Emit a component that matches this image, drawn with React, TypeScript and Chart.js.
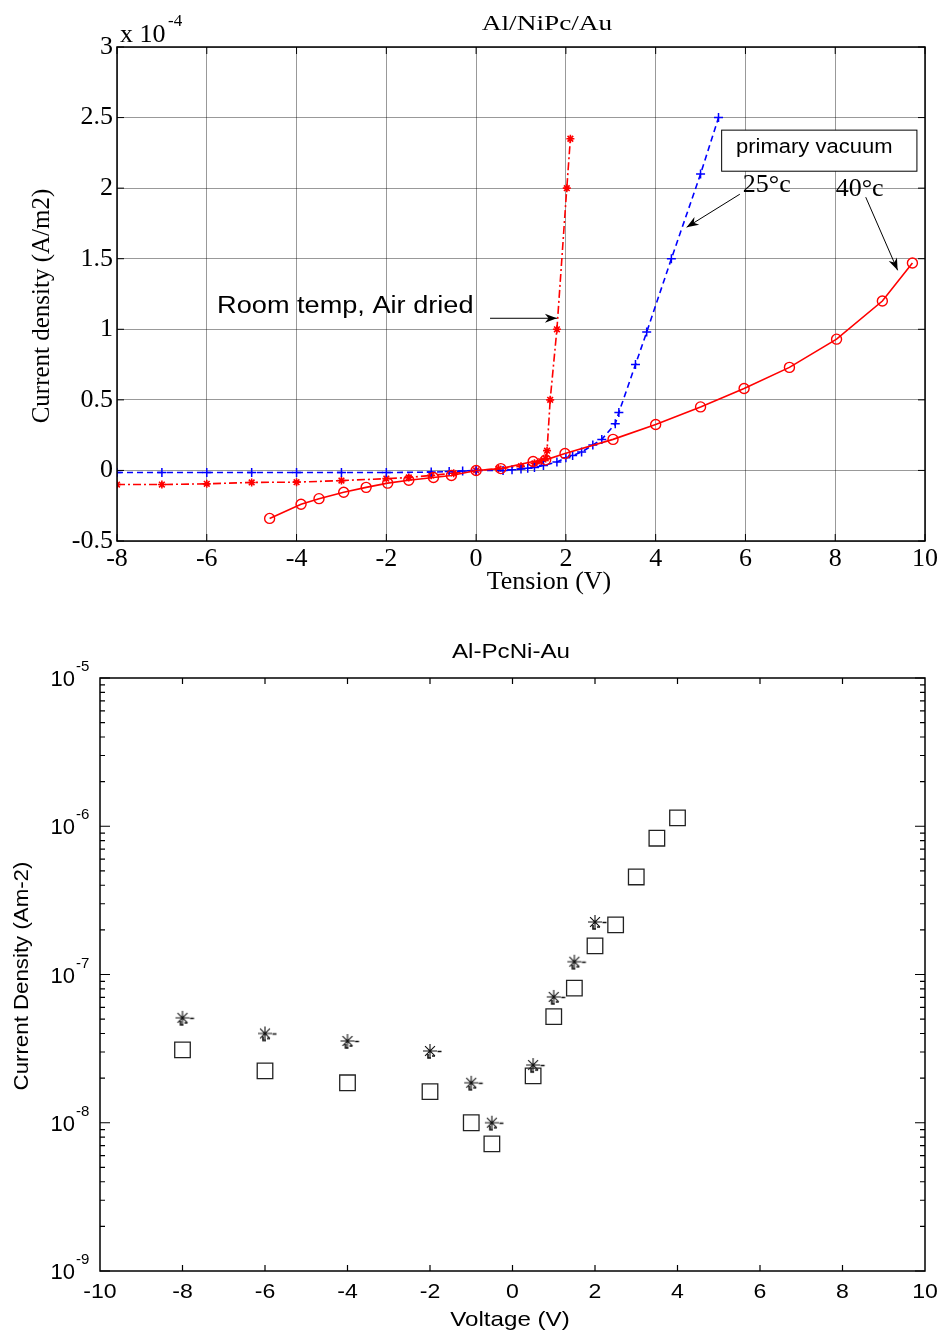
import React, { useEffect, useRef } from 'react';
import { Chart, registerables } from 'chart.js';

Chart.register(...registerables);

const SERIF = '"Liberation Serif", "Times New Roman", serif';
const SANS = '"Liberation Sans", Arial, sans-serif';

// ---------- Top chart: Al/NiPc/Au (current density in units of 1e-4 A/m2) ----------
const TOP_SCALE_EXP = -4;
const TOP_X_TICKS = [-8, -6, -4, -2, 0, 2, 4, 6, 8, 10];
const TOP_Y_TICKS = [-0.5, 0, 0.5, 1, 1.5, 2, 2.5, 3];

// primary vacuum 25°C (blue, dashed, +)
const vac25Voltage = [-8, -7, -6, -5, -4, -3, -2, -1, -0.6, -0.3, 0, 0.6, 0.8, 1.0, 1.15, 1.3, 1.5, 1.8, 2.0, 2.15, 2.35, 2.6, 2.8, 3.1, 3.18, 3.55, 3.8, 4.35, 5.0, 5.4];
const vac25Density = [-0.015, -0.015, -0.015, -0.015, -0.015, -0.015, -0.015, -0.012, -0.008, -0.004, 0, 0, 0.005, 0.01, 0.015, 0.02, 0.035, 0.06, 0.09, 0.105, 0.13, 0.18, 0.22, 0.33, 0.41, 0.75, 0.98, 1.5, 2.1, 2.5];

// room temp, air dried (red, dash-dot, *)
const roomVoltage = [-8, -7, -6, -5, -4, -3, -2, -1.5, -1, -0.5, 0, 0.5, 1.0, 1.3, 1.45, 1.55, 1.58, 1.65, 1.8, 2.02, 2.1];
const roomDensity = [-0.1, -0.1, -0.095, -0.085, -0.083, -0.072, -0.058, -0.05, -0.035, -0.02, 0, 0.012, 0.03, 0.05, 0.065, 0.085, 0.14, 0.5, 1.0, 2.0, 2.35];

// primary vacuum 40°C (red, solid, o)
const vac40Voltage = [-4.6, -3.9, -3.5, -2.95, -2.45, -1.97, -1.5, -0.95, -0.55, 0, 0.55, 1.27, 1.55, 1.98, 3.05, 4.0, 5.0, 5.97, 6.98, 8.03, 9.05, 9.72];
const vac40Density = [-0.34, -0.24, -0.2, -0.155, -0.12, -0.09, -0.07, -0.05, -0.036, 0, 0.013, 0.063, 0.075, 0.12, 0.22, 0.325, 0.45, 0.58, 0.73, 0.93, 1.2, 1.47];

// ---------- Bottom chart: Al-PcNi-Au (log scale) ----------
const BOTTOM_X_TICKS = [-10, -8, -6, -4, -2, 0, 2, 4, 6, 8, 10];
const BOTTOM_Y_EXPONENTS = [-9, -8, -7, -6, -5];

const squareVoltage = [-8, -6, -4, -2, -1, -0.5, 0.5, 1, 1.5, 2, 2.5, 3, 3.5, 4];
const squareDensity = [3.1e-8, 2.24e-8, 1.86e-8, 1.62e-8, 1.0e-8, 7.2e-9, 2.07e-8, 5.2e-8, 8.1e-8, 1.56e-7, 2.16e-7, 4.55e-7, 8.3e-7, 1.14e-6];

const starVoltage = [-8, -6, -4, -2, -1, -0.5, 0.5, 1, 1.5, 2];
const starDensity = [5.1e-8, 4.0e-8, 3.56e-8, 3.05e-8, 1.86e-8, 1.0e-8, 2.45e-8, 7.06e-8, 1.22e-7, 2.26e-7];

// annotation anchors (in data coordinates of the top chart)
const TOP_ANNOTATIONS = {
  roomText: { x: -5.77, y: 1.163, text: 'Room temp, Air dried' },
  roomArrow: { x1: 0.31, y1: 1.078, x2: 1.8, y2: 1.078 },
  boxRect: { x1: 5.47, y1: 2.411, x2: 9.82, y2: 2.12 },
  boxText: { x: 5.79, y: 2.29, text: 'primary vacuum' },
  t25: { x: 5.94, y: 2.02, text: '25°c' },
  a25: { x1: 5.875, y1: 1.957, x2: 4.69, y2: 1.723 },
  t40: { x: 8.01, y: 1.99, text: '40°c' },
  a40: { x1: 8.68, y1: 1.936, x2: 9.39, y2: 1.418 },
};

const pts = (xs: number[], ys: number[]) => xs.map((x, i) => ({ x, y: ys[i] }));

function drawText(
  ctx: CanvasRenderingContext2D,
  text: string,
  x: number,
  y: number,
  font: string,
  opts: { align?: CanvasTextAlign; sx?: number; rotate?: number; baseline?: CanvasTextBaseline } = {}
) {
  ctx.save();
  ctx.translate(x, y);
  if (opts.rotate) ctx.rotate(opts.rotate);
  ctx.scale(opts.sx ?? 1, 1);
  ctx.font = font;
  ctx.fillStyle = '#000';
  ctx.textAlign = opts.align ?? 'left';
  ctx.textBaseline = opts.baseline ?? 'middle';
  ctx.fillText(text, 0, 0);
  ctx.restore();
}

function drawArrow(ctx: CanvasRenderingContext2D, x1: number, y1: number, x2: number, y2: number) {
  ctx.save();
  ctx.strokeStyle = '#000';
  ctx.fillStyle = '#000';
  ctx.lineWidth = 1;
  ctx.beginPath();
  ctx.moveTo(x1, y1);
  ctx.lineTo(x2, y2);
  ctx.stroke();
  const a = Math.atan2(y2 - y1, x2 - x1);
  const L = 12;
  const W = 4.5;
  ctx.translate(x2, y2);
  ctx.rotate(a);
  ctx.beginPath();
  ctx.moveTo(0, 0);
  ctx.lineTo(-L, -W);
  ctx.lineTo(-L * 0.7, 0);
  ctx.lineTo(-L, W);
  ctx.closePath();
  ctx.fill();
  ctx.restore();
}

const topPlugin = {
  id: 'topDecor',
  afterDraw(chart: any) {
    const ctx: CanvasRenderingContext2D = chart.ctx;
    const { left, right, top, bottom } = chart.chartArea;
    const xs = chart.scales.x;
    const ys = chart.scales.y;
    ctx.save();
    ctx.strokeStyle = '#000';
    ctx.lineWidth = 1.5;
    ctx.strokeRect(left, top, right - left, bottom - top);
    ctx.lineWidth = 1;
    ctx.beginPath();
    TOP_X_TICKS.forEach((v) => {
      const px = xs.getPixelForValue(v);
      ctx.moveTo(px, bottom);
      ctx.lineTo(px, bottom - 7);
      ctx.moveTo(px, top);
      ctx.lineTo(px, top + 7);
    });
    TOP_Y_TICKS.forEach((v) => {
      const py = ys.getPixelForValue(v);
      ctx.moveTo(left, py);
      ctx.lineTo(left + 7, py);
      ctx.moveTo(right, py);
      ctx.lineTo(right - 7, py);
    });
    ctx.stroke();
    ctx.restore();

    drawText(ctx, 'Al/NiPc/Au', 547, 24, `21px ${SERIF}`, { align: 'center', sx: 1.3 });
    drawText(ctx, 'x 10', left + 3, 35, `26px ${SERIF}`);
    drawText(ctx, String(TOP_SCALE_EXP), left + 51, 22, `17px ${SERIF}`);
    drawText(ctx, 'Tension (V)', 549, 582, `26px ${SERIF}`, { align: 'center' });
    drawText(ctx, 'Current density (A/m2)', 42, 306, `25px ${SERIF}`, { align: 'center', rotate: -Math.PI / 2 });

    const A = TOP_ANNOTATIONS;
    const X = (v: number) => xs.getPixelForValue(v);
    const Y = (v: number) => ys.getPixelForValue(v);
    drawText(ctx, A.roomText.text, X(A.roomText.x), Y(A.roomText.y), `23px ${SANS}`, { sx: 1.18 });
    drawArrow(ctx, X(A.roomArrow.x1), Y(A.roomArrow.y1), X(A.roomArrow.x2), Y(A.roomArrow.y2));
    ctx.save();
    ctx.strokeStyle = '#000';
    ctx.lineWidth = 1;
    const bx1 = X(A.boxRect.x1), by1 = Y(A.boxRect.y1), bx2 = X(A.boxRect.x2), by2 = Y(A.boxRect.y2);
    ctx.fillStyle = '#fff';
    ctx.fillRect(bx1, by1, bx2 - bx1, by2 - by1);
    ctx.strokeRect(bx1, by1, bx2 - bx1, by2 - by1);
    ctx.restore();
    drawText(ctx, A.boxText.text, X(A.boxText.x), Y(A.boxText.y), `20px ${SANS}`, { sx: 1.1 });
    drawText(ctx, A.t25.text, X(A.t25.x), Y(A.t25.y), `26px ${SERIF}`);
    drawArrow(ctx, X(A.a25.x1), Y(A.a25.y1), X(A.a25.x2), Y(A.a25.y2));
    drawText(ctx, A.t40.text, X(A.t40.x), Y(A.t40.y), `26px ${SERIF}`);
    drawArrow(ctx, X(A.a40.x1), Y(A.a40.y1), X(A.a40.x2), Y(A.a40.y2));
  },
};

const bottomPlugin = {
  id: 'bottomDecor',
  afterDraw(chart: any) {
    const ctx: CanvasRenderingContext2D = chart.ctx;
    const { left, right, top, bottom } = chart.chartArea;
    const xs = chart.scales.x;
    const ys = chart.scales.y;
    ctx.save();
    ctx.strokeStyle = '#000';
    ctx.lineWidth = 1.5;
    ctx.strokeRect(left, top, right - left, bottom - top);
    ctx.lineWidth = 1.2;
    ctx.beginPath();
    BOTTOM_X_TICKS.slice(1, -1).forEach((v) => {
      const px = xs.getPixelForValue(v);
      ctx.moveTo(px, bottom);
      ctx.lineTo(px, bottom - 6);
      ctx.moveTo(px, top);
      ctx.lineTo(px, top + 6);
    });
    BOTTOM_Y_EXPONENTS.forEach((e, i) => {
      const py = ys.getPixelForValue(Math.pow(10, e));
      ctx.moveTo(left, py);
      ctx.lineTo(left + 10, py);
      ctx.moveTo(right, py);
      ctx.lineTo(right - 10, py);
      if (i < BOTTOM_Y_EXPONENTS.length - 1) {
        for (let k = 2; k <= 9; k++) {
          const pm = ys.getPixelForValue(k * Math.pow(10, e));
          ctx.moveTo(left, pm);
          ctx.lineTo(left + 5, pm);
          ctx.moveTo(right, pm);
          ctx.lineTo(right - 5, pm);
        }
      }
    });
    ctx.stroke();
    ctx.restore();

    BOTTOM_X_TICKS.forEach((v) => {
      drawText(ctx, String(v), xs.getPixelForValue(v), bottom + 21, `21px ${SANS}`, { align: 'center', sx: 1.1 });
    });
    BOTTOM_Y_EXPONENTS.forEach((e) => {
      const py = ys.getPixelForValue(Math.pow(10, e));
      drawText(ctx, '10', left - 25, py + 2, `22px ${SANS}`, { align: 'right' });
      drawText(ctx, String(e), left - 24, py - 11, `15px ${SANS}`);
    });
    drawText(ctx, 'Al-PcNi-Au', 511, 52, `21px ${SANS}`, { align: 'center', sx: 1.15 });
    drawText(ctx, 'Voltage (V)', 510, 720, `21px ${SANS}`, { align: 'center', sx: 1.15 });
    drawText(ctx, 'Current Density (Am-2)', 22, 376, `21px ${SANS}`, { align: 'center', rotate: -Math.PI / 2, sx: 1.06 });
  },
};

function makeStarMarker(): HTMLCanvasElement {
  const c = document.createElement('canvas');
  c.width = 32;
  c.height = 32;
  const g = c.getContext('2d')!;
  const cx = 16, cy = 16, r = 7;
  g.strokeStyle = '#111';
  g.lineWidth = 1.1;
  g.beginPath();
  for (let k = 0; k < 4; k++) {
    const a = (k * Math.PI) / 4;
    g.moveTo(cx - r * Math.cos(a), cy - r * Math.sin(a));
    g.lineTo(cx + r * Math.cos(a), cy + r * Math.sin(a));
  }
  g.stroke();
  g.lineWidth = 1.6;
  g.beginPath();
  g.moveTo(cx + 7.5, cy + 0.5);
  g.lineTo(cx + 11.5, cy + 0.5);
  g.moveTo(cx - 2, cy + 3);
  g.lineTo(cx - 2, cy + 7);
  g.lineTo(cx + 1, cy + 7);
  g.moveTo(cx + 2, cy + 5);
  g.lineTo(cx + 5, cy + 5);
  g.stroke();
  return c;
}

export default function App() {
  const topRef = useRef<HTMLCanvasElement>(null);
  const botRef = useRef<HTMLCanvasElement>(null);

  useEffect(() => {
    const gridOpts = { color: 'rgba(0,0,0,0.4)', lineWidth: 1, drawTicks: false };
    const top = new Chart(topRef.current!, {
      type: 'scatter',
      data: {
        datasets: [
          {
            data: pts(vac40Voltage, vac40Density),
            showLine: true,
            borderColor: '#ff0000',
            borderWidth: 1.6,
            pointStyle: 'circle',
            pointRadius: 5,
            pointBorderColor: '#ff0000',
            pointBackgroundColor: 'rgba(0,0,0,0)',
            pointBorderWidth: 1.4,
          },
          {
            data: pts(vac25Voltage, vac25Density),
            showLine: true,
            borderColor: '#0000ff',
            borderWidth: 1.6,
            borderDash: [6, 4],
            pointStyle: 'cross',
            pointRadius: 4.5,
            pointBorderColor: '#0000ff',
            pointBorderWidth: 1.5,
          },
          {
            data: pts(roomVoltage, roomDensity),
            showLine: true,
            borderColor: '#ff0000',
            borderWidth: 1.6,
            borderDash: [8, 3, 2, 3],
            pointStyle: 'star',
            pointRadius: 4,
            pointBorderColor: '#ff0000',
            pointBorderWidth: 1.6,
          },
        ],
      },
      options: {
        animation: false,
        responsive: false,
        layout: { padding: { left: 0, right: 17, top: 47, bottom: 29 } },
        plugins: { legend: { display: false }, tooltip: { enabled: false }, title: { display: false } },
        scales: {
          x: {
            type: 'linear',
            min: -8,
            max: 10,
            afterBuildTicks: (s: any) => {
              s.ticks = TOP_X_TICKS.map((v) => ({ value: v }));
            },
            afterFit: (s: any) => {
              s.height = 40;
            },
            ticks: {
              font: { family: SERIF, size: 26 },
              color: '#000',
              padding: 3,
              maxRotation: 0,
              autoSkip: false,
              callback: (v: any) => String(v),
            },
            grid: gridOpts,
            border: { display: false },
          },
          y: {
            type: 'linear',
            min: -0.5,
            max: 3,
            afterBuildTicks: (s: any) => {
              s.ticks = TOP_Y_TICKS.map((v) => ({ value: v }));
            },
            afterFit: (s: any) => {
              s.width = 117;
            },
            ticks: {
              font: { family: SERIF, size: 26 },
              color: '#000',
              padding: 4,
              autoSkip: false,
              callback: (v: any) => String(v),
            },
            grid: gridOpts,
            border: { display: false },
          },
        },
      },
      plugins: [topPlugin],
    } as any);

    const starImg = makeStarMarker();
    const bottom = new Chart(botRef.current!, {
      type: 'scatter',
      data: {
        datasets: [
          {
            data: pts(squareVoltage, squareDensity),
            pointStyle: 'rect',
            pointRadius: 11,
            pointBorderColor: '#222',
            pointBackgroundColor: 'rgba(0,0,0,0)',
            pointBorderWidth: 1.3,
          },
          {
            data: pts(starVoltage, starDensity),
            pointStyle: starImg,
            pointRadius: 6,
          },
        ],
      },
      options: {
        animation: false,
        responsive: false,
        layout: { padding: { left: 0, right: 17, top: 78, bottom: 33 } },
        plugins: { legend: { display: false }, tooltip: { enabled: false }, title: { display: false } },
        scales: {
          x: {
            type: 'linear',
            min: -10,
            max: 10,
            afterBuildTicks: (s: any) => {
              s.ticks = BOTTOM_X_TICKS.map((v) => ({ value: v }));
            },
            afterFit: (s: any) => {
              s.height = 30;
            },
            ticks: { display: false },
            grid: { display: false },
            border: { display: false },
          },
          y: {
            type: 'logarithmic',
            min: 1e-9,
            max: 1e-5,
            afterBuildTicks: (s: any) => {
              s.ticks = BOTTOM_Y_EXPONENTS.map((e) => ({ value: Math.pow(10, e) }));
            },
            afterFit: (s: any) => {
              s.width = 100;
            },
            ticks: { display: false },
            grid: { display: false },
            border: { display: false },
          },
        },
      },
      plugins: [bottomPlugin],
    } as any);

    return () => {
      top.destroy();
      bottom.destroy();
    };
  }, []);

  return (
    <div style={{ position: 'absolute', left: 0, top: 0, width: 942, height: 1334, background: '#fff' }}>
      <canvas ref={topRef} width={942} height={610} style={{ position: 'absolute', left: 0, top: 0, width: 942, height: 610 }} />
      <canvas ref={botRef} width={942} height={734} style={{ position: 'absolute', left: 0, top: 600, width: 942, height: 734 }} />
    </div>
  );
}
